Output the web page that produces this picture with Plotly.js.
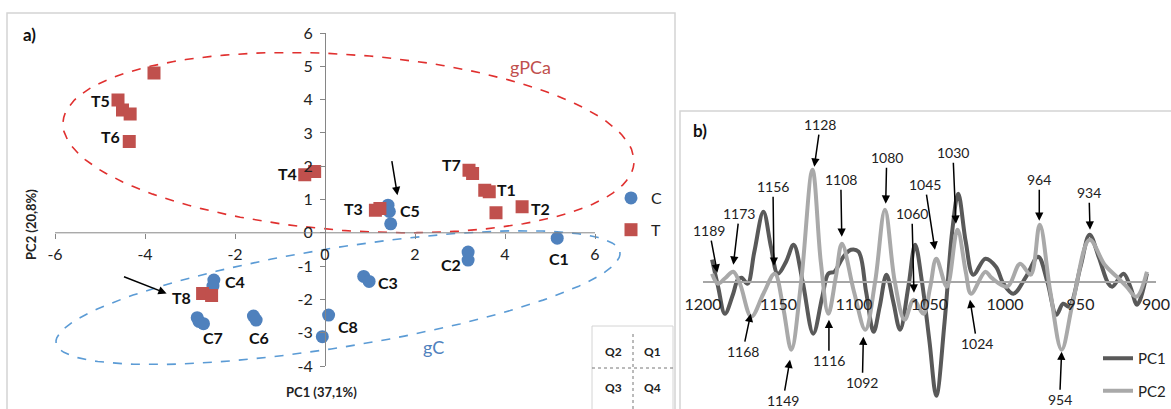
<!DOCTYPE html>
<html>
<head>
<meta charset="utf-8">
<script src="https://cdn.plot.ly/plotly-3.0.1.min.js"></script>
<style>html,body{margin:0;padding:0;background:#fff;}#chart{width:1171px;height:409px;}</style>
</head>
<body>
<div id="chart"></div>
<script>
// ---------- DATA (panel a: PCA scores) ----------
const cX = [1.40, 1.43, 1.46, 5.16, 3.18, 3.18, 0.86, 0.98, -2.47, -2.49, -2.84, -2.80, -2.70, -1.59, -1.53, 0.08, -0.06];
const cY = [0.83, 0.64, 0.27, -0.16, -0.58, -0.82, -1.31, -1.46, -1.42, -1.60, -2.55, -2.66, -2.73, -2.50, -2.62, -2.47, -3.12];
const tX = [-3.80, -4.60, -4.50, -4.33, -4.35, -0.45, -0.23, 1.12, 1.22, 3.20, 3.28, 3.55, 3.65, 3.80, 4.38, -2.72, -2.52];
const tY = [4.80, 3.99, 3.69, 3.57, 2.74, 1.74, 1.84, 0.68, 0.73, 1.88, 1.78, 1.28, 1.23, 0.60, 0.78, -1.82, -1.88];
const pointLabels = ['T5','T6','T4','T3','C5','T7','T1','T2','C1','C2','C3','C4','T8','C7','C6','C8'];
const axA_xTicks = [-6, -4, -2, 0, 2, 4, 6];
const axA_xTickText = ['-6', '-4', '-2', '0', '2', '4', '6'];
const axA_yTicks = [-4, -3, -2, -1, 0, 1, 2, 3, 4, 5, 6];
const axA_yTickText = ['-4', '-3', '-2', '-1', '0', '1', '2', '3', '4', '5', '6'];

// ---------- DATA (panel b: loadings) ----------
const pc1Wn = [1194, 1190, 1185.5, 1180, 1177, 1174.5, 1170.5, 1166, 1160, 1155, 1150.5, 1145, 1140, 1134, 1127, 1121, 1117, 1113, 1107, 1102, 1097, 1092, 1087, 1083, 1078.5, 1074, 1069.5, 1064, 1059.5, 1055, 1050, 1045.5, 1040, 1035, 1031, 1026, 1021, 1013, 1006, 1001, 994.5, 986, 978, 972, 966, 961.5, 957.5, 950, 944, 938, 931.5, 929, 921.5, 917, 912.5, 906];
const pc1Val = [0.022, -0.005, -0.032, -0.012, 0.002, 0.004, -0.002, 0.030, 0.070, 0.035, 0.008, 0.020, 0.037, 0.000, -0.052, -0.015, 0.008, 0.010, 0.025, 0.032, 0.030, -0.010, -0.050, -0.025, 0.007, -0.020, -0.048, -0.005, 0.037, 0.000, -0.060, -0.114, -0.040, 0.050, 0.088, 0.040, 0.007, 0.023, 0.015, -0.002, -0.012, 0.005, 0.025, 0.000, -0.033, -0.022, -0.025, 0.015, 0.047, 0.025, -0.002, -0.005, 0.008, -0.005, -0.023, 0.008];
const pc2Wn = [1194, 1190, 1185, 1180, 1175.5, 1168, 1160, 1152.5, 1147, 1141.5, 1135, 1127.5, 1122, 1117, 1112, 1108, 1100, 1092.5, 1086, 1079.5, 1073, 1066.5, 1060.5, 1054, 1049.5, 1045.5, 1038.5, 1031.5, 1026, 1022.5, 1013, 1009, 998.5, 990, 983, 977, 970, 962.5, 955, 944, 934, 926, 919.5, 913, 906];
const pc2Val = [0.008, -0.002, 0.004, 0.010, -0.002, -0.035, -0.012, 0.008, -0.025, -0.068, 0.000, 0.112, 0.020, -0.032, 0.005, 0.038, -0.010, -0.048, 0.000, 0.072, 0.000, -0.038, -0.018, -0.032, -0.005, 0.023, -0.005, 0.052, 0.010, -0.012, 0.010, 0.004, -0.005, 0.018, 0.007, 0.057, -0.010, -0.068, -0.020, 0.042, 0.017, 0.005, -0.005, -0.015, 0.010];
const axB_xTicks = [1200, 1150, 1100, 1050, 1000, 950, 900];
const axB_xTickText = ['1200', '1150', '1100', '1050', '1000', '950', '900'];
const peakLabels = ['1189','1173','1156','1128','1108','1080','1060','1045','1030','964','934','1168','1149','1116','1092','1024','954'];

// ---------- LAYOUT / STYLE (positions) ----------
const W = 1171, H = 409;
const FONT = 'Lato, "Open Sans", sans-serif';
// label anchor positions for panel a (data units)
const labelPos = [[-4.99,3.97],[-4.77,2.88],[-0.84,1.77],[0.64,0.73],[1.88,0.66],[2.80,2.04],[4.04,1.31],[4.78,0.73],[5.20,-0.77],[2.80,-0.94],[1.40,-1.48],[-1.99,-1.46],[-3.18,-1.94],[-2.50,-3.14],[-1.47,-3.14],[0.52,-2.80]];
// arrow tips (data) and text offsets (px) for panel b
const peakTips = [[1190.5,0.009],[1179.9,0.017],[1153,0.016],[1126.3,0.115],[1108.1,0.045],[1079,0.078],[1060.3,-0.011],[1046.4,0.032],[1032.5,0.058],[977.3,0.061],[943.7,0.052],[1168.4,-0.032],[1142.4,-0.078],[1116.6,-0.038],[1093.8,-0.055],[1023.2,-0.018],[962.5,-0.070]];
const peakOff = [[-8,-42],[6,-51],[-1,-79],[6,-42],[-1,-57],[1,-46],[-2,-79],[-10,-65],[-3,-71],[0,-41],[-1,-37],[-8,38],[-7,41],[0,41],[-1,46],[7,44],[-2,48]];
const ellipses = [
  {cx:0.522, cy:2.709, ux:6.344, uy:-0.6145, vx:-0.140, vy:-2.636, color:'#E0302F'},
  {cx:0.289, cy:-1.946, ux:6.265, uy:1.366, vx:0.176, vy:-1.473, color:'#5B9BD5'}
];

const xaDom = [52.75/W, 653.5/W], xaRange = [-6.05, 7.3];
const yaDom = [(H-366)/H, (H-33)/H], yaRange = [-4, 6];
const xbDom = [703/W, 1156/W], xbRange = [1200, 900];
const ybDom = [(H-400)/H, (H-140)/H], ybRange = [-0.1183, 0.1417];
function posAt(dom, rng, v){ return dom[0] + (v - rng[0])/(rng[1]-rng[0])*(dom[1]-dom[0]); }

const traces = [];
ellipses.forEach(e => {
  const ex = [], ey = [];
  for (let i = 0; i <= 120; i++) {
    const t = 2*Math.PI*i/120;
    ex.push(e.cx + e.ux*Math.cos(t) + e.vx*Math.sin(t));
    ey.push(e.cy + e.uy*Math.cos(t) + e.vy*Math.sin(t));
  }
  traces.push({x:ex, y:ey, xaxis:'x', yaxis:'y', mode:'lines', line:{color:e.color, width:1.6, dash:'dash'}, showlegend:false, hoverinfo:'skip'});
});
traces.push({x:cX, y:cY, xaxis:'x', yaxis:'y', mode:'markers', name:'C', legend:'legend', legendgroup:'C',
  marker:{symbol:'circle', size:13, color:'#4F81BD', line:{width:0}}});
traces.push({x:tX, y:tY, xaxis:'x', yaxis:'y', mode:'markers', name:'T', legend:'legend', legendgroup:'T',
  marker:{symbol:'square', size:13, color:'#C0504D', line:{width:0}}});
traces.push({x:pc1Wn, y:pc1Val, xaxis:'x2', yaxis:'y2', mode:'lines', name:'PC1', legend:'legend2', legendgroup:'P1',
  line:{color:'#595959', width:4, shape:'spline', smoothing:1}});
traces.push({x:pc2Wn, y:pc2Val, xaxis:'x2', yaxis:'y2', mode:'lines', name:'PC2', legend:'legend2', legendgroup:'P2',
  line:{color:'#A9A9A9', width:4, shape:'spline', smoothing:1}});

const annotations = [];
pointLabels.forEach((t, i) => annotations.push({xref:'x', yref:'y', x:labelPos[i][0], y:labelPos[i][1], text:'<b>'+t+'</b>', showarrow:false, font:{family:FONT, size:16, color:'#111'}}));
peakLabels.forEach((t, i) => annotations.push({xref:'x2', yref:'y2', x:peakTips[i][0], y:peakTips[i][1], text:t, showarrow:true, ax:peakOff[i][0], ay:peakOff[i][1], arrowhead:2, arrowsize:1.1, arrowwidth:1.5, arrowcolor:'#000', standoff:0, font:{family:FONT, size:14, color:'#222'}}));
// arrows in panel a
annotations.push({xref:'x', yref:'y', axref:'x', ayref:'y', x:1.61, y:1.13, ax:1.48, ay:2.2, text:'', showarrow:true, arrowhead:2, arrowsize:1.1, arrowwidth:1.5, arrowcolor:'#000', standoff:0});
annotations.push({xref:'x', yref:'y', axref:'x', ayref:'y', x:-3.52, y:-1.82, ax:-4.5, ay:-1.3, text:'', showarrow:true, arrowhead:2, arrowsize:1.1, arrowwidth:1.5, arrowcolor:'#000', standoff:0});
// text labels
const P = (px, py) => ({x:px/W, y:1-py/H});
function paperText(px, py, text, size, color, extra){
  const p = P(px, py);
  annotations.push(Object.assign({xref:'paper', yref:'paper', x:p.x, y:p.y, xanchor:'center', yanchor:'middle', text:text, showarrow:false, font:{family:FONT, size:size, color:color}}, extra||{}));
}
paperText(29, 34, '<b>a)</b>', 17, '#111');
paperText(700, 130, '<b>b)</b>', 17, '#111');
paperText(530, 67, 'gPCa', 18, '#C0504D');
paperText(433, 347, 'gC', 18, '#4F81BD');
paperText(322, 392, '<b>PC1 (37,1%)</b>', 13, '#222');
paperText(31, 225, '<b>PC2 (20,8%)</b>', 13, '#222', {textangle:-90});
paperText(613, 351, '<b>Q2</b>', 12, '#222');
paperText(652, 351, '<b>Q1</b>', 12, '#222');
paperText(613, 387, '<b>Q3</b>', 12, '#222');
paperText(652, 387, '<b>Q4</b>', 12, '#222');

const shapes = [
  {type:'rect', xref:'paper', yref:'paper', x0:7/W, x1:675/W, y0:-0.05, y1:1-13/H, line:{color:'#D4D4D4', width:1.5}},
  {type:'rect', xref:'paper', yref:'paper', x0:680/W, x1:1.05, y0:-0.05, y1:1-111/H, line:{color:'#D4D4D4', width:1.5}},
  {type:'rect', xref:'paper', yref:'paper', x0:592/W, x1:673/W, y0:-0.05, y1:1-326/H, line:{color:'#D4D4D4', width:1}},
  {type:'line', xref:'paper', yref:'paper', x0:592/W, x1:673/W, y0:1-368/H, y1:1-368/H, line:{color:'#777', width:1, dash:'dot'}},
  {type:'line', xref:'paper', yref:'paper', x0:633/W, x1:633/W, y0:0, y1:1-333/H, line:{color:'#777', width:1, dash:'dot'}},
  {type:'line', xref:'x', yref:'y', x0:axA_xTicks[0], x1:axA_xTicks[axA_xTicks.length-1], y0:0, y1:0, line:{color:'#868686', width:1}}
];

const layout = {
  width:W, height:H, margin:{l:0, r:0, t:0, b:0}, paper_bgcolor:'#fff', plot_bgcolor:'rgba(0,0,0,0)',
  font:{family:FONT, color:'#222'},
  showlegend:true,
  xaxis:{domain:xaDom, range:xaRange, anchor:'free', position:posAt(yaDom, yaRange, 0), showline:false, showgrid:false, zeroline:false,
    ticks:'outside', ticklen:5, tickcolor:'#868686', tickvals:axA_xTicks, ticktext:axA_xTickText, tickfont:{family:FONT, size:16, color:'#222'}, ticklabelstandoff:2, fixedrange:true},
  yaxis:{domain:yaDom, range:yaRange, anchor:'free', position:posAt(xaDom, xaRange, 0), showline:true, linecolor:'#868686', linewidth:1, showgrid:false, zeroline:false,
    ticks:'outside', ticklen:5, tickcolor:'#868686', tickvals:axA_yTicks, ticktext:axA_yTickText, tickfont:{family:FONT, size:16, color:'#222'}, ticklabelstandoff:4, fixedrange:true},
  xaxis2:{domain:xbDom, range:xbRange, anchor:'free', position:posAt(ybDom, ybRange, 0), showline:true, linecolor:'#A6A6A6', linewidth:2, showgrid:false, zeroline:false,
    ticks:'outside', ticklen:6, tickcolor:'rgba(0,0,0,0)', tickvals:axB_xTicks, ticktext:axB_xTickText, tickfont:{family:FONT, size:16, color:'#222'}, ticklabelstandoff:2, fixedrange:true},
  yaxis2:{domain:ybDom, range:ybRange, anchor:'x2', visible:false, fixedrange:true},
  legend:{x:611/W, y:1-181/H, xanchor:'left', yanchor:'top', bgcolor:'rgba(0,0,0,0)', font:{family:FONT, size:16, color:'#222'}, traceorder:'grouped', tracegroupgap:8, itemclick:false},
  legend2:{x:1098/W, y:1-342/H, xanchor:'left', yanchor:'top', bgcolor:'rgba(0,0,0,0)', font:{family:FONT, size:15, color:'#222'}, traceorder:'grouped', tracegroupgap:10, itemclick:false},
  annotations:annotations,
  shapes:shapes
};
Plotly.newPlot('chart', traces, layout, {staticPlot:true, displayModeBar:false});
</script>
</body>
</html>
